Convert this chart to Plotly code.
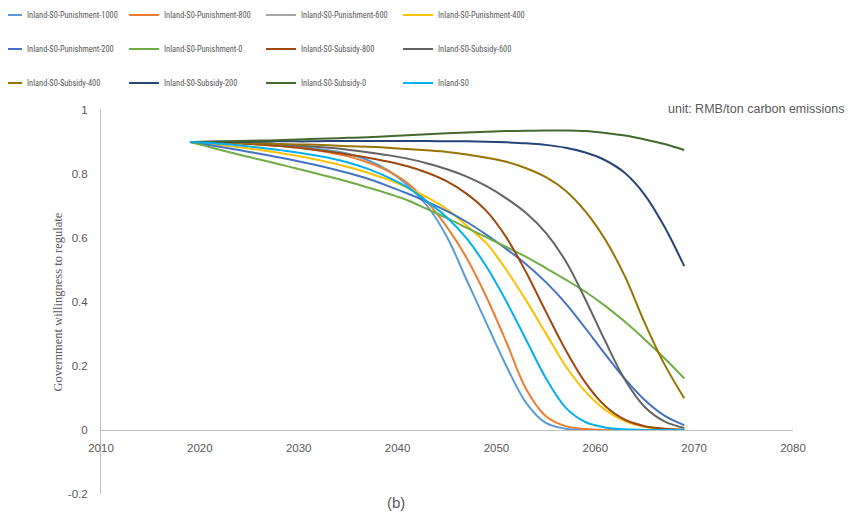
import plotly.graph_objects as go

# ---------------- data ----------------
years = [2019, 2021, 2023, 2025, 2027, 2029, 2031, 2033, 2035, 2037, 2039, 2041, 2043,
         2045, 2047, 2049, 2051, 2053, 2055, 2057, 2059, 2061, 2063, 2065, 2067, 2069]

punish_1000 = [0.900, 0.901, 0.901, 0.899, 0.895, 0.889, 0.882, 0.874, 0.863, 0.843, 0.812, 0.765, 0.700,
               0.603, 0.468, 0.333, 0.200, 0.085, 0.022, 0.004, 0.000, 0.000, 0.000, 0.000, 0.000, 0.000]
punish_800 = [0.900, 0.899, 0.897, 0.894, 0.890, 0.885, 0.878, 0.868, 0.855, 0.836, 0.810, 0.772, 0.712,
              0.634, 0.537, 0.415, 0.275, 0.128, 0.043, 0.012, 0.003, 0.000, 0.000, 0.000, 0.000, 0.000]
punish_600 = [None]  # listed in the legend, but no visible line in the chart
punish_400 = [0.900, 0.894, 0.887, 0.880, 0.871, 0.861, 0.850, 0.837, 0.822, 0.804, 0.783, 0.757, 0.727,
              0.690, 0.638, 0.583, 0.500, 0.405, 0.302, 0.200, 0.120, 0.063, 0.028, 0.010, 0.003, 0.000]
punish_200 = [0.900, 0.890, 0.880, 0.869, 0.858, 0.846, 0.833, 0.819, 0.803, 0.785, 0.763, 0.739, 0.713,
              0.684, 0.650, 0.610, 0.566, 0.518, 0.462, 0.396, 0.318, 0.237, 0.160, 0.094, 0.045, 0.015]
punish_0 = [0.900, 0.884, 0.868, 0.853, 0.838, 0.823, 0.808, 0.792, 0.776, 0.758, 0.739, 0.718, 0.690,
            0.662, 0.632, 0.602, 0.572, 0.541, 0.506, 0.470, 0.432, 0.388, 0.338, 0.283, 0.224, 0.161]
subsidy_800 = [0.900, 0.899, 0.897, 0.894, 0.890, 0.885, 0.878, 0.870, 0.861, 0.851, 0.839, 0.824, 0.804,
               0.777, 0.738, 0.684, 0.602, 0.493, 0.370, 0.250, 0.148, 0.075, 0.032, 0.012, 0.004, 0.001]
subsidy_600 = [0.900, 0.901, 0.900, 0.898, 0.895, 0.891, 0.887, 0.882, 0.876, 0.868, 0.859, 0.848, 0.833,
               0.815, 0.792, 0.762, 0.724, 0.678, 0.616, 0.528, 0.408, 0.278, 0.157, 0.072, 0.027, 0.006]
subsidy_400 = [0.900, 0.899, 0.898, 0.896, 0.895, 0.893, 0.892, 0.890, 0.887, 0.885, 0.882, 0.878, 0.874,
               0.869, 0.861, 0.851, 0.838, 0.818, 0.790, 0.748, 0.683, 0.595, 0.480, 0.335, 0.205, 0.099]
subsidy_200 = [0.900, 0.900, 0.901, 0.901, 0.902, 0.902, 0.902, 0.903, 0.903, 0.903, 0.903, 0.903, 0.903,
               0.902, 0.902, 0.901, 0.899, 0.896, 0.891, 0.882, 0.867, 0.843, 0.803, 0.735, 0.635, 0.512]
subsidy_0 = [0.900, 0.901, 0.902, 0.904, 0.905, 0.907, 0.909, 0.911, 0.913, 0.915, 0.918, 0.921, 0.924,
             0.927, 0.930, 0.932, 0.934, 0.935, 0.936, 0.936, 0.934, 0.928, 0.920, 0.908, 0.894, 0.875]
inland_s0 = [0.900, 0.897, 0.892, 0.886, 0.879, 0.871, 0.862, 0.851, 0.836, 0.816, 0.790, 0.758, 0.714,
             0.664, 0.598, 0.510, 0.402, 0.282, 0.162, 0.070, 0.025, 0.008, 0.002, 0.000, 0.000, 0.000]

series_names = ["Inland-S0-Punishment-1000", "Inland-S0-Punishment-800", "Inland-S0-Punishment-600",
                "Inland-S0-Punishment-400", "Inland-S0-Punishment-200", "Inland-S0-Punishment-0",
                "Inland-S0-Subsidy-800", "Inland-S0-Subsidy-600", "Inland-S0-Subsidy-400",
                "Inland-S0-Subsidy-200", "Inland-S0-Subsidy-0", "Inland-S0"]
series_values = [punish_1000, punish_800, punish_600, punish_400, punish_200, punish_0,
                 subsidy_800, subsidy_600, subsidy_400, subsidy_200, subsidy_0, inland_s0]

x_ticks = [2010, 2020, 2030, 2040, 2050, 2060, 2070, 2080]
y_ticks = [-0.2, 0, 0.2, 0.4, 0.6, 0.8, 1]
y_tick_labels = ["-0.2", "0", "0.2", "0.4", "0.6", "0.8", "1"]

# ---------------- style ----------------
colors = ["#5B9BD5", "#ED7D31", "#A5A5A5", "#FFC000", "#4472C4", "#70AD47",
          "#9E480E", "#636363", "#997300", "#264478", "#43682B", "#00B0F0"]
legend_ids = ["legend"] * 4 + ["legend2"] * 4 + ["legend3"] * 4

# the page shows the figure with an 8 px offset, so the figure is 8 px smaller
OFF = 8
W, H = 855 - OFF, 518 - OFF
ML, MR, MT, MB = 101 - OFF, 62, 110 - OFF, 24
PW = W - ML - MR
PH = H - MT - MB
GRAY = "#595959"
AXIS = "#BFBFBF"
LEG_FONT = dict(family="Liberation Sans Narrow, Roboto Condensed, DejaVu Sans Condensed, Liberation Sans, sans-serif",
                size=8.4, color=GRAY)


def px_x(p):  # reference screen pixel -> paper x
    return (p - OFF - ML) / PW


def px_y(p):  # reference screen pixel -> paper y
    return (H - MB - (p - OFF)) / PH


fig = go.Figure()
for name, vals, col, lg in zip(series_names, series_values, colors, legend_ids):
    fig.add_trace(go.Scatter(
        x=years[:len(vals)], y=vals, name=name, mode="lines",
        line=dict(color=col, width=2, shape="spline", smoothing=1.0),
        legend=lg, hoverinfo="skip",
    ))


def leg(py):
    return dict(orientation="h", x=px_x(27 - 40), xanchor="left",
                y=px_y(py), yanchor="middle",
                entrywidth=92, entrywidthmode="pixels",
                font=LEG_FONT, bgcolor="rgba(0,0,0,0)", itemclick=False)


fig.update_layout(
    width=W, height=H,
    margin=dict(l=ML, r=MR, t=MT, b=MB, autoexpand=False),
    paper_bgcolor="white", plot_bgcolor="white",
    font=dict(family="Liberation Sans, Arial, sans-serif", color=GRAY),
    legend=leg(15), legend2=leg(49), legend3=leg(83),
    xaxis=dict(range=[2010, 2080], tickvals=x_ticks, showgrid=False, zeroline=False,
               showline=True, linecolor=AXIS, linewidth=1,
               anchor="free", position=0.2 / 1.2, ticks="",
               ticklabelstandoff=7,
               tickfont=dict(size=11.5, color=GRAY)),
    yaxis=dict(range=[-0.2, 1], tickvals=y_ticks, ticktext=y_tick_labels,
               showgrid=False, zeroline=False, showline=True, linecolor=AXIS, linewidth=1,
               ticks="", ticklabelstandoff=10,
               tickfont=dict(size=11.5, color=GRAY)),
    showlegend=True,
)

fig.add_annotation(text="Government willingness to regulate", textangle=-90,
                   xref="paper", yref="paper", x=px_x(57.5), y=0.5,
                   xanchor="center", yanchor="middle", showarrow=False,
                   font=dict(family="Liberation Serif, Times New Roman, serif", size=12.5, color=GRAY))
fig.add_annotation(text="unit: RMB/ton carbon emissions",
                   xref="paper", yref="paper", x=px_x(846), y=px_y(109),
                   xanchor="right", yanchor="middle", showarrow=False,
                   font=dict(size=12.5, color=GRAY))
fig.add_annotation(text="(b)",
                   xref="paper", yref="paper", x=px_x(396), y=px_y(502),
                   xanchor="center", yanchor="middle", showarrow=False,
                   font=dict(size=15, color=GRAY))

fig.write_html("out.html")
